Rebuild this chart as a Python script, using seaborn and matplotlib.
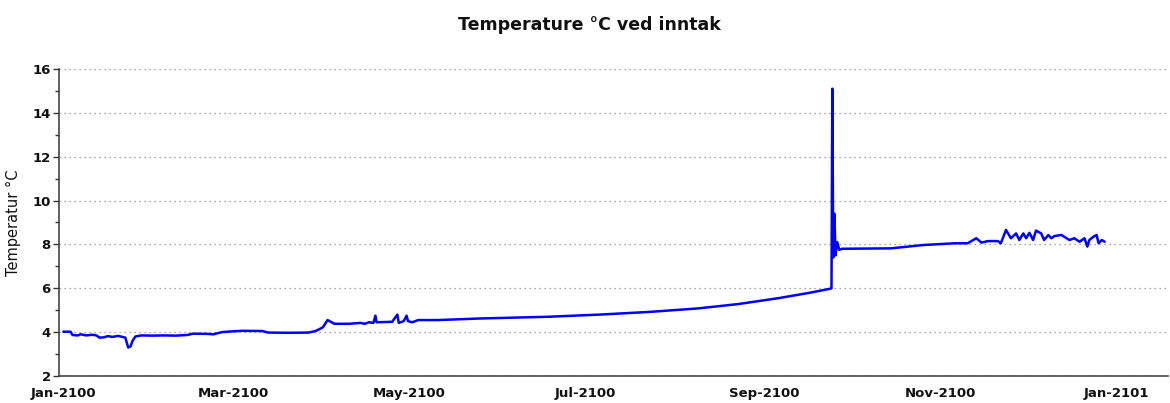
import matplotlib
matplotlib.use("Agg")
import matplotlib.pyplot as plt
import matplotlib.dates as mdates
from matplotlib.ticker import MultipleLocator
import numpy as np
import pandas as pd
import seaborn as sns

# Intake temperature log: day offset from 1 Jan 2100 and reading in °C
day = [0, 2.5, 3.2, 5, 6, 8, 10, 11.5, 12.5, 14, 15.5, 17, 19, 21.5, 22.5, 23.3,
       24, 25, 27, 31, 35, 39, 43, 45, 50, 52, 55, 58, 62, 69, 71, 78, 85, 87.5,
       90, 91.6, 94, 99, 103, 104.5, 106, 107.5, 108.2, 108.6, 114, 115.8, 116.3,
       118, 119, 119.5, 121, 123, 130, 144, 156, 168, 186, 203, 220, 234, 248,
       259, 265.9, 266.3, 266.6, 266.9, 267.3, 267.7, 268.3, 269, 270, 287, 298,
       309, 313.5, 316.5, 318.3, 320.5, 324, 325, 326.8, 328.5, 330.3, 331.4,
       332.8, 333.8, 334.9, 336.2, 337.2, 339, 340, 341.5, 342.5, 343.6, 346,
       348.8, 350.5, 352.3, 354, 355, 355.7, 357.1, 358.2, 358.9, 360, 361]
temp = [4.02, 4.02, 3.87, 3.85, 3.90, 3.85, 3.88, 3.85, 3.75, 3.76, 3.82, 3.78,
        3.83, 3.75, 3.30, 3.35, 3.60, 3.80, 3.85, 3.84, 3.85, 3.84, 3.87, 3.93,
        3.92, 3.90, 4.00, 4.03, 4.06, 4.05, 3.98, 3.97, 3.98, 4.05, 4.22, 4.55,
        4.38, 4.38, 4.42, 4.38, 4.45, 4.42, 4.75, 4.45, 4.47, 4.80, 4.42, 4.50,
        4.75, 4.50, 4.45, 4.55, 4.55, 4.62, 4.66, 4.70, 4.80, 4.92, 5.08, 5.28,
        5.55, 5.80, 5.98, 6.00, 15.10, 7.40, 9.40, 7.50, 8.10, 7.75, 7.80, 7.82,
        7.97, 8.05, 8.05, 8.28, 8.08, 8.15, 8.15, 8.05, 8.66, 8.28, 8.50, 8.20,
        8.50, 8.28, 8.53, 8.20, 8.63, 8.50, 8.20, 8.43, 8.28, 8.38, 8.43, 8.20,
        8.28, 8.12, 8.28, 7.90, 8.20, 8.35, 8.43, 8.05, 8.20, 8.12]

month_ticks = ["2100-01-01", "2100-03-01", "2100-05-01", "2100-07-01",
               "2100-09-01", "2100-11-01", "2101-01-01"]
y_ticks = [2, 4, 6, 8, 10, 12, 14, 16]

start = pd.Timestamp("2100-01-01")
df = pd.DataFrame({
    "time": start + pd.to_timedelta(day, unit="D"),
    "temp": temp,
})

sns.set_style("white")
plt.rcParams["font.family"] = ["DejaVu Sans"]

fig = plt.figure(figsize=(11.7, 4.03), dpi=100)
ax = fig.add_axes([0.0504, 0.067, 0.948, 0.762])

sns.lineplot(data=df, x="time", y="temp", ax=ax, color="#0000ff",
             linewidth=1.8, estimator=None)

ax.set_ylim(2, 16)
ax.set_yticks(y_ticks)
ax.yaxis.set_minor_locator(MultipleLocator(1))
ax.set_xlim(pd.Timestamp("2099-12-30 12:00"), pd.Timestamp("2101-01-19"))
ax.set_xticks(pd.to_datetime(month_ticks))
ax.xaxis.set_major_formatter(mdates.DateFormatter("%b-%Y"))

ax.grid(axis="y", which="major", linestyle=(0, (1, 3)), color="#888888",
        linewidth=0.9)
ax.grid(axis="x", visible=False)

for side in ("top", "right"):
    ax.spines[side].set_visible(False)
for side in ("left", "bottom"):
    ax.spines[side].set_color("#444444")
    ax.spines[side].set_linewidth(1.2)

ax.tick_params(axis="y", which="major", length=4, width=1, color="#333333",
               labelsize=9.5, pad=2, left=True)
ax.tick_params(axis="y", which="minor", length=3, width=1, color="#333333",
               left=True)
ax.tick_params(axis="x", length=0, labelsize=9.5, pad=8)
for lbl in ax.get_xticklabels() + ax.get_yticklabels():
    lbl.set_fontweight("bold")
    lbl.set_color("#111111")

ax.set_xlabel("")
ax.set_ylabel("Temperatur °C", fontsize=10.5, color="#111111", labelpad=8,
              fontweight="medium")

fig.text(0.504, 0.938, "Temperature °C ved inntak", ha="center", va="center",
         fontsize=12.5, fontweight="bold", color="#111111")

fig.savefig("out.png", dpi=100)
